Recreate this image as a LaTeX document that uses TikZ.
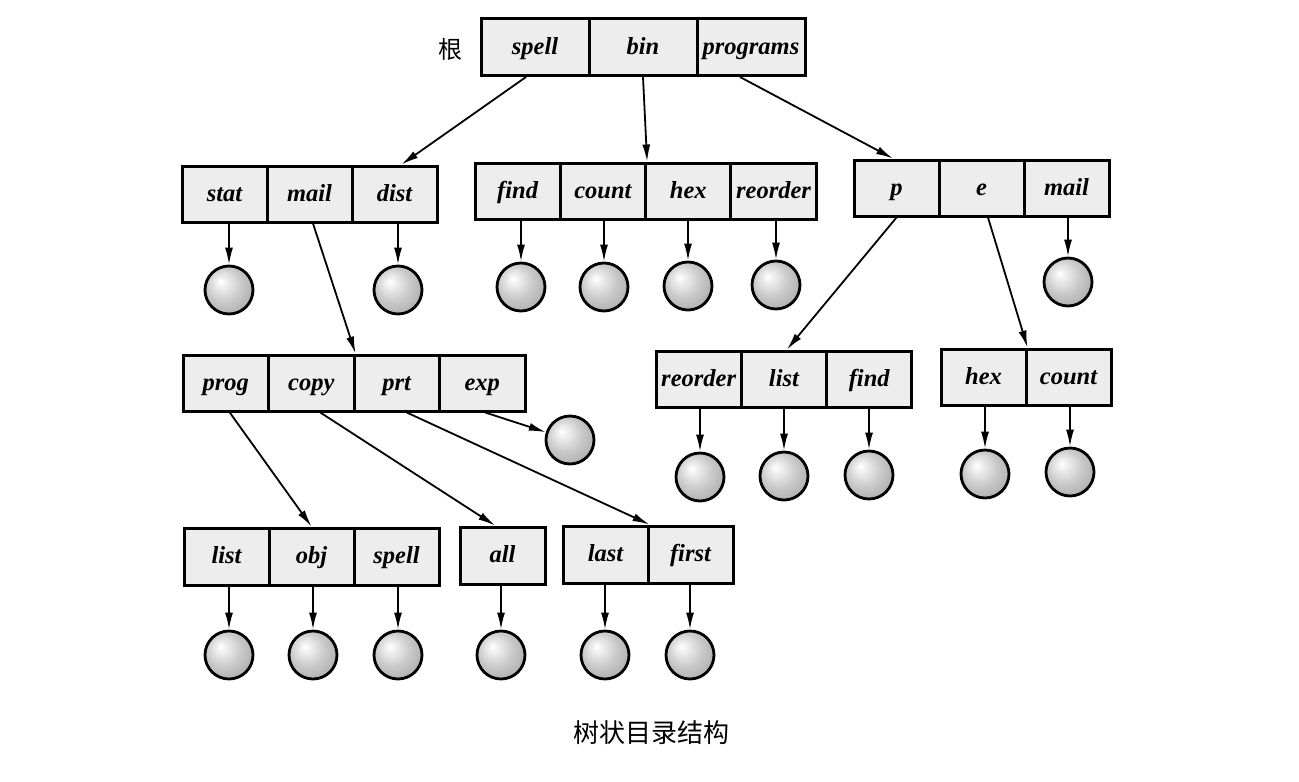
\documentclass[tikz,border=0pt]{standalone}
\usepackage{fontspec}
\setmainfont{Liberation Serif}
\newfontfamily\cjk{Noto Sans CJK SC}
\usetikzlibrary{arrows.meta}
\pgfdeclareradialshading{sphere}{\pgfpoint{-9bp}{9bp}}{color(0bp)=(white); color(6bp)=(gray!14); color(18bp)=(gray!42); color(30bp)=(gray!62); color(50bp)=(gray!68)}
\begin{document}
\begin{tikzpicture}[x=1pt,y=-1pt,
  cell/.style={draw,line width=3pt,fill=gray!14,minimum width=85pt,minimum height=56pt,inner sep=0pt,
    text height=19pt,text depth=5pt,font=\fontsize{24.5}{24.5}\selectfont\bfseries\itshape},
  wide/.style={minimum width=108pt,minimum height=57pt},
  leaf/.style={circle,draw,line width=2.8pt,minimum size=48pt,inner sep=0pt,shading=sphere},
  arr/.style={line width=1.8pt,-{Latex[length=17pt,width=8pt]}}]
\useasboundingbox (0,0) rectangle (1299,782);

% root
\node[font=\cjk\fontsize{24}{24}\selectfont] (root) at (450.5,49) {根};
\node[cell,wide] (spell) at (535,47) {spell};
\node[cell,wide] (bin) at (643,47) {bin};
\node[cell,wide] (programs) at (751,47) {programs};

% row 2 left
\node[cell] (stat) at (224.5,194) {stat};
\node[cell] (lmail) at (309.5,194) {mail};
\node[cell] (dist) at (394.5,194) {dist};
% row 2 middle
\node[cell,minimum width=85.3pt] (mfind) at (517.65,191) {find};
\node[cell,minimum width=85.3pt] (mcount) at (602.95,191) {count};
\node[cell,minimum width=85.3pt] (mhex) at (688.25,191) {hex};
\node[cell,minimum width=85.3pt] (mreorder) at (773.55,191) {reorder};
% row 2 right
\node[cell] (p) at (896.5,188) {p};
\node[cell] (e) at (981.5,188) {e};
\node[cell] (rmail) at (1066.5,188) {mail};

% row 3 left
\node[cell,minimum width=85.5pt] (prog) at (225.75,383) {prog};
\node[cell,minimum width=85.5pt] (copy) at (311.25,383) {copy};
\node[cell,minimum width=85.5pt] (prt) at (396.75,383) {prt};
\node[cell,minimum width=85.5pt] (exp) at (482.25,383) {exp};
% row 3 right
\node[cell,minimum width=85.3pt] (rreorder) at (698.65,379) {reorder};
\node[cell,minimum width=85.3pt] (rlist) at (783.95,379) {list};
\node[cell,minimum width=85.3pt] (rfind) at (869.25,379) {find};
\node[cell] (rhex) at (983.5,377) {hex};
\node[cell] (rcount) at (1068.5,377) {count};

% row 4
\node[cell,minimum height=57pt] (blist) at (226.5,556.5) {list};
\node[cell,minimum height=57pt] (obj) at (311.5,556.5) {obj};
\node[cell,minimum height=57pt] (bspell) at (396.5,556.5) {spell};
\node[cell,minimum height=57pt] (all) at (502.5,555.5) {all};
\node[cell,minimum height=57pt] (last) at (605.5,554.5) {last};
\node[cell,minimum height=57pt] (first) at (690.5,554.5) {first};

% leaves
\node[leaf] (c-stat) at (229,290) {};
\node[leaf] (c-dist) at (398,290) {};
\node[leaf] (c-mfind) at (521,287) {};
\node[leaf] (c-mcount) at (604,287) {};
\node[leaf] (c-mhex) at (688,286) {};
\node[leaf] (c-mreorder) at (776,285) {};
\node[leaf] (c-rmail) at (1068,282) {};
\node[leaf] (c-exp) at (570,440) {};
\node[leaf] (c-rreorder) at (700,477) {};
\node[leaf] (c-rlist) at (784,476) {};
\node[leaf] (c-rfind) at (869,475) {};
\node[leaf] (c-rhex) at (985,474) {};
\node[leaf] (c-rcount) at (1070,472) {};
\node[leaf] (c-blist) at (229,655) {};
\node[leaf] (c-obj) at (313,655) {};
\node[leaf] (c-bspell) at (398,655) {};
\node[leaf] (c-all) at (501,655) {};
\node[leaf] (c-last) at (605,655) {};
\node[leaf] (c-first) at (690,655) {};

% directory links
\draw[arr] ([xshift=-9pt]spell.south) -- ([xshift=7pt]dist.north);
\draw[arr] (bin.south) -- (mcount.north east);
\draw[arr] ([xshift=-11pt]programs.south) -- ([xshift=-3.5pt]p.north);
\draw[arr] ([xshift=3.5pt]lmail.south) -- (copy.north east);
\draw[arr] (p.south) -- ([xshift=3pt]rlist.north);
\draw[arr] ([xshift=6.5pt]e.south) -- (rhex.north east);
\draw[arr] ([xshift=4pt]prog.south) -- (obj.north);
\draw[arr] ([xshift=9pt]copy.south) -- ([xshift=-7.5pt]all.north);
\draw[arr] ([xshift=10pt]prt.south) -- (last.north east);
\draw[arr] ([xshift=3pt]exp.south) -- (c-exp);

% file links
\foreach \n in {stat,dist,mfind,mcount,mhex,mreorder,rmail,rreorder,rlist,rfind,rhex,rcount,blist,obj,bspell,all,last,first}
  \draw[arr] (\n.south -| c-\n) -- (c-\n.north);

% caption
\node[font=\cjk\fontsize{26}{26}\selectfont] (title) at (651,733) {树状目录结构};
\end{tikzpicture}
\end{document}
